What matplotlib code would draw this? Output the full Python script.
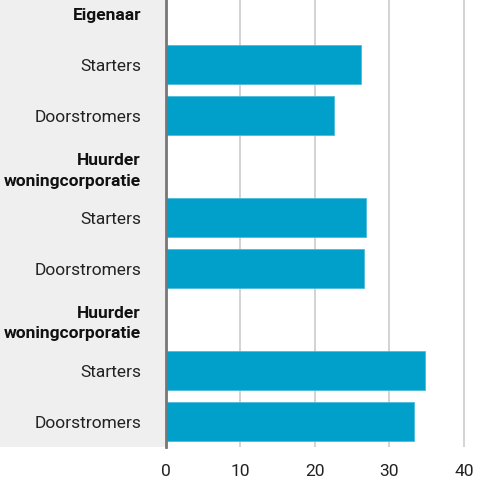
import numpy as np
import matplotlib
matplotlib.use('Agg')
import matplotlib.pyplot as plt
from matplotlib.patches import Rectangle

plt.rcParams['font.family'] = ['Roboto', 'DejaVu Sans']

# Gegevens
row_labels = ['Eigenaar', 'Starters', 'Doorstromers',
              'Huurder\nwoningcorporatie', 'Starters', 'Doorstromers',
              'Huurder\nwoningcorporatie', 'Starters', 'Doorstromers']
row_values = [np.nan, 26.2, 22.6, np.nan, 26.8, 26.6, np.nan, 34.8, 33.3]
is_header = [True, False, False, True, False, False, True, False, False]
x_ticks = [0, 10, 20, 30, 40]

fig = plt.figure(figsize=(4.8, 4.8), dpi=100)

# grijs paneel achter de labels
fig.patches.append(Rectangle((0, 33 / 480), 166 / 480, 1 - 33 / 480,
                             transform=fig.transFigure, facecolor='#efefef',
                             edgecolor='none', zorder=-1))

ax = fig.add_axes([166 / 480, 33 / 480, 309 / 480, 1 - 33 / 480])
ax.patch.set_alpha(0)

y = np.arange(len(row_labels))
ax.barh(y, row_values, height=0.77, color='#00a0cb', edgecolor='#4dbbdc',
        linewidth=0.6, zorder=3)

ax.set_xlim(0, 41.5)
ax.set_ylim(len(row_labels) - 0.5, -0.27)

ax.set_xticks(x_ticks)
ax.set_xticklabels([str(t) for t in x_ticks], fontsize=12.5, color='#222222')
ax.set_yticks(y)
ax.set_yticklabels(row_labels, fontsize=12.5, color='#222222', linespacing=1.45)
for lbl, hdr in zip(ax.get_yticklabels(), is_header):
    if hdr:
        lbl.set_fontweight('bold')
        lbl.set_color('#111111')

ax.tick_params(axis='y', length=0, pad=18)
ax.tick_params(axis='x', length=0, pad=12)

ax.grid(axis='x', color='#cccccc', linewidth=1.2, zorder=1)
for s in ['top', 'right', 'bottom']:
    ax.spines[s].set_visible(False)
ax.spines['left'].set_color('#777777')
ax.spines['left'].set_linewidth(2)
ax.spines['left'].set_zorder(4)

fig.savefig('out.png', dpi=100)
